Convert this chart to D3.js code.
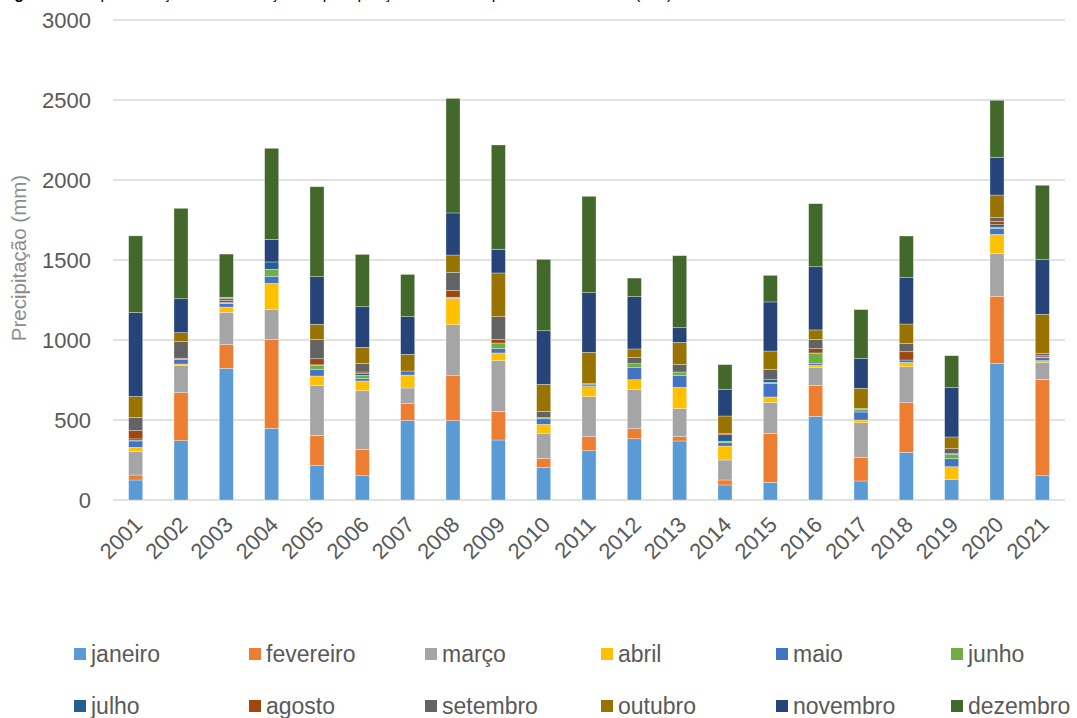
<!DOCTYPE html>
<html>
<head>
<meta charset="utf-8">
<script src="https://cdn.jsdelivr.net/npm/d3@7"></script>
<style>
  body { margin: 0; background: #fff; }
  svg { display: block; font-family: "Liberation Sans", Arial, sans-serif; }
</style>
</head>
<body>
<svg width="1077" height="718"></svg>
<script>
// Monthly precipitation (mm), stacked by year

const years = ["2001","2002","2003","2004","2005","2006","2007","2008","2009","2010",
               "2011","2012","2013","2014","2015","2016","2017","2018","2019","2020","2021"];

const months = ["janeiro","fevereiro","março","abril","maio","junho",
                "julho","agosto","setembro","outubro","novembro","dezembro"];

const monthColors = ["#5B9BD5","#ED7D31","#A5A5A5","#FFC000","#4472C4","#70AD47",
                     "#255E91","#9E480E","#636363","#997300","#264478","#43682B"];

// values per month, one per year (2001..2021)
const janeiro   = [125, 371, 823, 448, 217, 152, 498, 496, 375, 204, 308, 383, 369, 94, 110, 523, 119, 298, 129, 854, 152];
const fevereiro = [31, 300, 148, 556, 187, 165, 104, 281, 179, 56, 88, 63, 27, 31, 307, 192, 146, 310, 0, 419, 602];
const marco     = [146, 171, 202, 188, 313, 366, 98, 319, 317, 157, 250, 244, 175, 125, 193, 114, 218, 225, 0, 267, 104];
const abril     = [27, 8, 33, 162, 58, 61, 81, 162, 48, 56, 56, 62, 133, 87, 34, 13, 17, 27, 79, 120, 13];
const maio      = [40, 29, 21, 44, 42, 16, 25, 3, 27, 35, 8, 75, 73, 21, 85, 10, 50, 15, 50, 38, 19];
const junho     = [3, 0, 3, 44, 25, 19, 0, 6, 35, 7, 11, 25, 23, 9, 6, 63, 17, 0, 27, 8, 4];
const julho     = [10, 2, 5, 46, 3, 11, 0, 0, 0, 0, 0, 0, 0, 41, 17, 4, 0, 0, 5, 15, 0];
const agosto    = [52, 5, 12, 0, 38, 10, 0, 43, 23, 0, 0, 0, 0, 7, 0, 27, 0, 52, 0, 21, 8];
const setembro  = [82, 104, 14, 0, 121, 54, 0, 113, 142, 39, 6, 38, 48, 0, 65, 58, 6, 52, 31, 23, 15];
const outubro   = [131, 56, 3, 0, 94, 100, 104, 108, 273, 169, 196, 54, 137, 110, 114, 59, 125, 121, 73, 141, 243];
const novembro  = [525, 212, 3, 141, 298, 254, 236, 263, 148, 335, 373, 327, 92, 167, 307, 395, 187, 290, 308, 236, 342];
const dezembro  = [479, 565, 270, 569, 562, 327, 264, 716, 652, 446, 602, 116, 450, 154, 166, 394, 305, 260, 200, 356, 465];

const yTicks = [0, 500, 1000, 1500, 2000, 2500, 3000];

const series = [janeiro, fevereiro, marco, abril, maio, junho, julho, agosto, setembro, outubro, novembro, dezembro];

// build table for d3.stack
const table = years.map((y, i) => {
    let row = {year: y};
    months.forEach((m, j) => { row[m] = series[j][i]; });
    return row;
});

const svg = d3.select("svg");
const margin = {left: 113, right: 12, top: 20, bottom: 218};
const width = +svg.attr("width"), height = +svg.attr("height");
const plotBottom = height - margin.bottom;   // 500

const x = d3.scaleBand().domain(years).range([margin.left, width - margin.right]).paddingInner(0.69).paddingOuter(0.345);
const y = d3.scaleLinear().domain([0, 3000]).range([plotBottom, margin.top]);
const color = d3.scaleOrdinal().domain(months).range(monthColors);

// title, cropped by the top edge in the source image (only descenders show)
svg.append("text")
    .attr("x", 0).attr("y", -1)
    .attr("font-size", 16).attr("fill", "#000")
    .html("<tspan font-weight='bold'>Figura 5</tspan> – Representação da distribuição da precipitação mensal no período 2001–2021 (mm)");

// gridlines
svg.append("g")
    .selectAll("line")
    .data(yTicks)
    .enter().append("line")
    .attr("x1", margin.left).attr("x2", width - margin.right)
    .attr("y1", d => y(d)).attr("y2", d => y(d))
    .attr("stroke", "#d9d9d9").attr("stroke-width", 1.3);

// y axis labels
const yAxis = svg.append("g")
    .attr("transform", "translate(" + (margin.left - 22) + ",0)")
    .call(d3.axisLeft(y).tickValues(yTicks).tickFormat(d3.format("d")).tickSize(0).tickPadding(0));
yAxis.select(".domain").remove();
yAxis.selectAll("text")
    .attr("font-size", 22).attr("fill", "#595959")
    .attr("font-family", "'Liberation Sans', Arial, sans-serif");

// y axis title
svg.append("text")
    .attr("transform", "translate(26," + 258 + ") rotate(-90)")
    .attr("text-anchor", "middle")
    .attr("font-size", 20.5).attr("fill", "#8c8c8c")
    .text("Precipitação (mm)");

// stacked bars
const stacked = d3.stack().keys(months)(table);

svg.append("g")
    .selectAll("g")
    .data(stacked)
    .enter().append("g")
    .attr("fill", d => color(d.key))
    .selectAll("rect")
    .data(d => d)
    .enter().append("rect")
    .attr("x", d => x(d.data.year))
    .attr("width", x.bandwidth())
    .attr("y", d => y(d[1]))
    .attr("height", d => y(d[0]) - y(d[1]))
    .attr("stroke", "#ffffff").attr("stroke-opacity", 0.45).attr("stroke-width", 0.7);

// x axis labels
const xAxis = svg.append("g")
    .attr("transform", "translate(0," + plotBottom + ")")
    .call(d3.axisBottom(x).tickSize(0).tickPadding(0));
xAxis.select(".domain").remove();
xAxis.selectAll("text")
    .attr("font-size", 22).attr("fill", "#595959")
    .attr("font-family", "'Liberation Sans', Arial, sans-serif")
    .attr("text-anchor", "end")
    .attr("dy", 0)
    .attr("transform", "translate(8,26) rotate(-45)");

// legend
const legendCols = [74, 249, 425, 601, 776, 951];
const legendRows = [648, 700];

const legend = svg.append("g")
    .selectAll("g")
    .data(months)
    .enter().append("g")
    .attr("transform", (d, i) => "translate(" + legendCols[i % 6] + "," + legendRows[Math.floor(i / 6)] + ")");

legend.append("rect")
    .attr("width", 12).attr("height", 12)
    .attr("fill", d => color(d));

legend.append("text")
    .attr("x", 17).attr("y", 14)
    .attr("font-size", 23).attr("fill", "#595959")
    .text(d => d);
</script>
</body>
</html>
